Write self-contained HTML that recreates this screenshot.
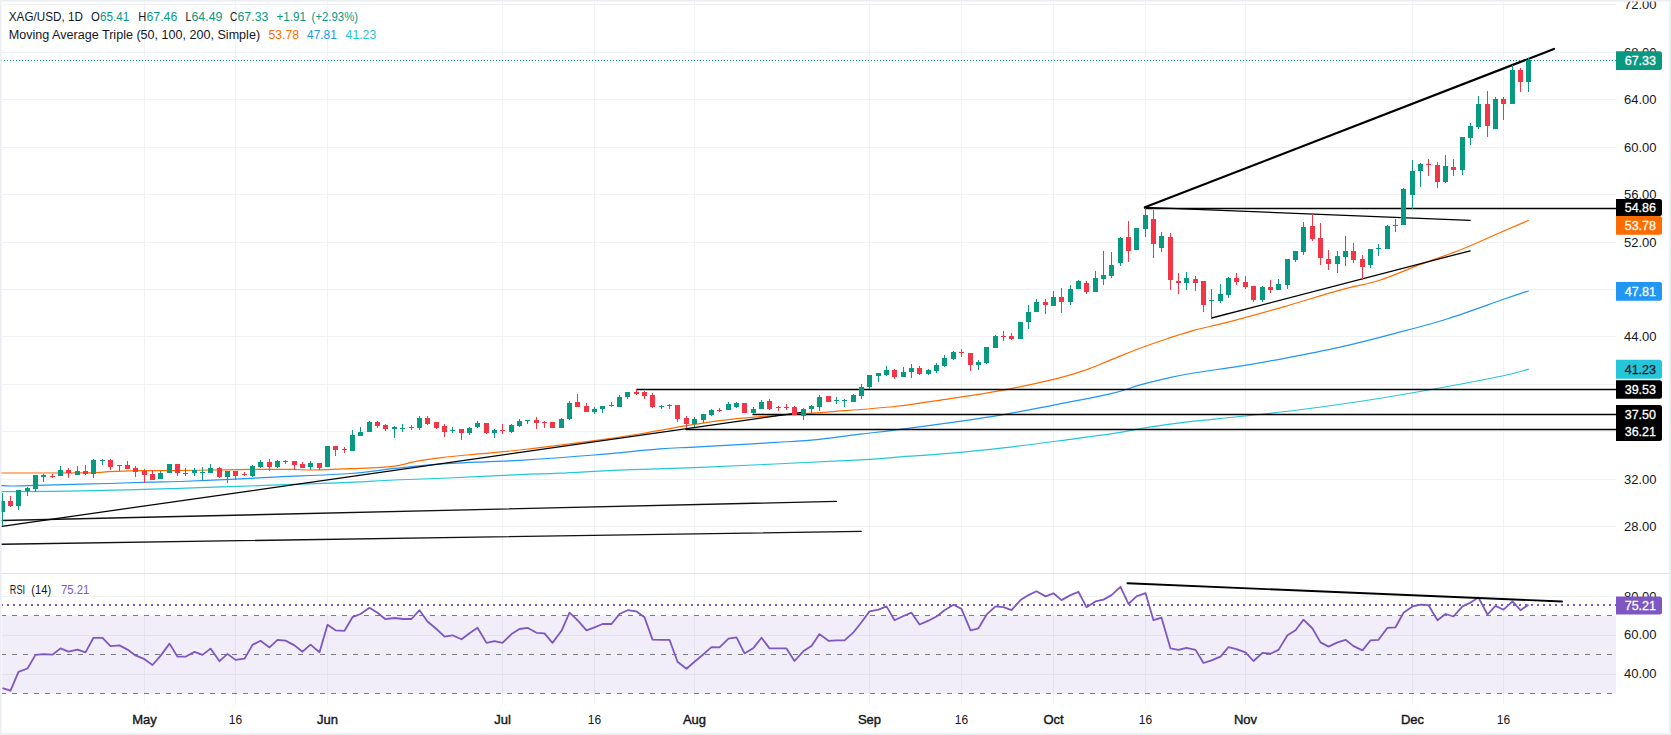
<!DOCTYPE html>
<html><head><meta charset="utf-8"><style>
html,body{margin:0;padding:0;background:#fff;}
body{width:1671px;height:735px;overflow:hidden;position:relative;font-family:"Liberation Sans",sans-serif;}
svg{position:absolute;left:0;top:0;}
text{font-family:"Liberation Sans",sans-serif;}
</style></head><body>
<svg width="1671" height="735" viewBox="0 0 1671 735">
<rect x="0" y="0" width="1671" height="735" fill="#ffffff"/>

<path d="M2 526.5H1616M2 479.5H1616M2 431.5H1616M2 384.5H1616M2 336.5H1616M2 289.5H1616M2 242.5H1616M2 194.5H1616M2 147.5H1616M2 99.5H1616M2 52.5H1616M2 4.5H1616M2 596.5H1616M2 635.5H1616M2 674.5H1616M144.5 2V573M144.5 574V704.5M235.5 2V573M235.5 574V704.5M327.5 2V573M327.5 574V704.5M502.5 2V573M502.5 574V704.5M594.5 2V573M594.5 574V704.5M694.5 2V573M694.5 574V704.5M869.5 2V573M869.5 574V704.5M961.5 2V573M961.5 574V704.5M1053.5 2V573M1053.5 574V704.5M1145.5 2V573M1145.5 574V704.5M1245.5 2V573M1245.5 574V704.5M1412.5 2V573M1412.5 574V704.5M1503.5 2V573M1503.5 574V704.5" stroke="#f0f2f4" stroke-width="1" fill="none"/>
<path d="M0 573.5H1669" stroke="#e0e3eb" stroke-width="1"/>
<rect x="2" y="615.5" width="1614" height="78" fill="#7e57c2" fill-opacity="0.1"/>
<path d="M2 615.5H1616" stroke="#787b86" stroke-width="1" stroke-dasharray="5 6" stroke-dashoffset="1"/>
<path d="M2 654.5H1616" stroke="#787b86" stroke-width="1" stroke-dasharray="5 6" stroke-dashoffset="1"/>
<path d="M2 693.5H1616" stroke="#787b86" stroke-width="1" stroke-dasharray="5 6" stroke-dashoffset="1"/>
<path d="M2 605H1616" stroke="#7e57c2" stroke-width="2" stroke-dasharray="2 4" stroke-dashoffset="1"/>
<path d="M1 60.5H1616" stroke="#089981" stroke-width="1" stroke-dasharray="1 2"/>
<path d="M0.0 491.7C9.1 491.6 31.7 491.6 54.4 491.3C77.1 491.0 115.1 490.2 136.0 489.7C156.9 489.2 163.0 488.9 180.0 488.3C197.0 487.8 219.3 487.0 238.0 486.4C256.7 485.8 273.7 485.1 292.4 484.4C311.1 483.7 333.0 483.0 350.0 482.3C367.0 481.6 377.9 480.7 394.4 480.0C410.9 479.3 427.9 478.9 448.8 478.0C469.7 477.1 501.5 475.4 520.0 474.6C538.5 473.8 542.4 474.0 560.0 473.2C577.6 472.4 603.2 470.7 625.6 469.8C648.0 468.9 655.5 469.2 694.6 467.6C733.7 466.0 826.7 461.6 860.0 459.9C893.3 458.2 879.6 458.4 894.4 457.3C909.2 456.2 930.6 454.9 948.8 453.3C966.9 451.7 985.1 449.9 1003.3 447.8C1021.4 445.8 1039.6 443.4 1057.7 441.0C1075.8 438.6 1098.5 435.7 1112.1 433.7C1125.7 431.7 1130.2 430.3 1139.3 428.8C1148.4 427.3 1157.4 426.0 1166.5 424.7C1175.6 423.4 1181.5 422.6 1193.7 421.2C1206.0 419.8 1222.6 418.4 1240.0 416.5C1257.4 414.6 1277.0 412.7 1298.0 410.0C1319.0 407.3 1343.3 404.0 1366.0 400.5C1388.7 397.0 1411.3 393.1 1434.0 389.0C1456.7 384.9 1486.3 379.3 1502.1 376.0C1517.9 372.7 1524.3 370.3 1528.8 369.2" stroke="#26c6da" stroke-width="1.2" fill="none"/>
<path d="M0.0 485.6C2.3 485.7 4.5 486.1 13.6 486.0C22.7 485.9 38.5 485.3 54.4 484.9C70.3 484.5 92.9 483.9 108.8 483.5C124.7 483.1 137.8 482.5 149.7 482.2C161.6 481.9 167.6 481.9 180.0 481.5C192.4 481.1 207.9 480.4 224.4 479.6C240.9 478.8 257.9 477.9 278.8 476.9C299.7 475.9 330.7 474.9 350.0 473.5C369.3 472.1 380.2 469.9 394.4 468.4C408.6 466.9 419.3 465.5 435.2 464.4C451.1 463.3 475.6 462.3 489.7 461.6C503.8 460.9 502.6 461.4 520.0 460.3C537.5 459.2 571.1 456.9 594.4 455.0C617.7 453.1 643.8 450.2 659.7 448.9C675.6 447.6 676.7 448.0 690.0 447.3C703.3 446.6 725.3 445.4 739.5 444.6C753.7 443.8 763.5 443.1 775.4 442.4C787.3 441.6 796.9 441.5 811.0 440.1C825.1 438.7 846.1 435.9 860.0 434.2C873.9 432.5 879.6 432.0 894.4 430.1C909.2 428.2 930.6 425.4 948.8 422.8C966.9 420.2 985.1 417.7 1003.3 414.6C1021.4 411.5 1039.6 407.8 1057.7 404.3C1075.8 400.8 1098.5 396.6 1112.1 393.4C1125.7 390.2 1130.2 387.7 1139.3 385.2C1148.4 382.7 1157.4 380.4 1166.5 378.4C1175.6 376.4 1181.5 375.0 1193.7 373.0C1206.0 371.0 1224.9 368.6 1240.0 366.2C1255.1 363.8 1267.9 361.4 1284.4 358.3C1300.9 355.2 1320.7 351.5 1338.8 347.4C1356.9 343.3 1375.1 338.6 1393.3 333.8C1411.5 329.0 1429.6 324.5 1447.7 318.8C1465.8 313.1 1488.6 304.5 1502.1 299.8C1515.6 295.1 1524.3 292.3 1528.8 290.8" stroke="#2196f3" stroke-width="1.2" fill="none"/>
<path d="M0.0 473.0C14.5 473.0 68.9 473.1 87.0 472.9C105.1 472.7 100.6 472.0 108.8 471.6C117.0 471.2 125.8 470.8 136.0 470.6C146.2 470.5 157.5 470.8 170.0 470.7C182.5 470.6 197.2 470.2 210.8 470.0C224.4 469.8 238.0 469.5 251.6 469.4C265.2 469.3 282.2 469.3 292.4 469.4C302.6 469.5 303.3 470.1 312.9 470.0C322.5 469.9 336.6 469.3 350.0 468.7C363.4 468.1 382.2 467.6 393.0 466.4C403.8 465.2 406.6 463.1 414.8 461.6C423.0 460.1 431.8 458.9 442.0 457.6C452.2 456.4 463.0 455.4 476.0 454.1C489.0 452.8 500.3 452.2 520.0 450.0C539.7 447.8 574.5 443.4 594.4 440.7C614.3 438.0 623.4 436.6 639.3 434.0C655.2 431.4 674.1 427.6 690.0 425.1C705.9 422.6 716.8 420.7 734.4 418.9C752.0 417.1 779.7 415.3 795.6 414.1C811.5 412.9 813.2 413.1 829.7 411.8C846.2 410.5 874.5 408.7 894.4 406.5C914.2 404.3 930.6 401.5 948.8 398.8C966.9 396.1 985.1 393.5 1003.3 390.1C1021.4 386.7 1044.1 381.7 1057.7 378.4C1071.3 375.1 1075.8 373.5 1084.9 370.3C1094.0 367.1 1103.0 363.0 1112.1 359.4C1121.2 355.8 1130.2 351.9 1139.3 348.5C1148.4 345.1 1157.4 342.0 1166.5 339.0C1175.6 336.0 1183.1 333.2 1193.7 330.3C1204.3 327.4 1214.9 325.6 1230.0 321.6C1245.1 317.7 1266.3 311.8 1284.4 306.6C1302.5 301.4 1322.9 294.7 1338.8 290.3C1354.7 285.9 1366.1 284.5 1379.7 280.2C1393.3 275.9 1406.9 269.5 1420.5 264.4C1434.1 259.3 1447.7 254.9 1461.3 249.5C1474.9 244.1 1490.8 236.7 1502.1 231.8C1513.3 226.9 1524.3 222.2 1528.8 220.3" stroke="#ff6d00" stroke-width="1.2" fill="none"/>
<path d="M1.8 520.5L836.4 501.4" stroke="#111" stroke-width="1.4" stroke-linecap="round"/>
<path d="M1.8 544.2L861.2 531.4" stroke="#111" stroke-width="1.4" stroke-linecap="round"/>
<path d="M1.8 526.3L801.7 412.3" stroke="#000" stroke-width="1.25" stroke-linecap="round"/>
<path d="M636.5 389.5L1616 389.5" stroke="#000" stroke-width="1.4" stroke-linecap="round"/>
<path d="M753.0 414.5L1616 414.5" stroke="#000" stroke-width="1.4" stroke-linecap="round"/>
<path d="M686 429.5L1616 429.5" stroke="#000" stroke-width="1.4" stroke-linecap="round"/>
<path d="M1144.9 208.5L1616 208.5" stroke="#000" stroke-width="1.4" stroke-linecap="round"/>
<path d="M1144.9 207.3L1470.2 220.3" stroke="#000" stroke-width="1.3" stroke-linecap="round"/>
<path d="M1211.6 318L1470.2 250.8" stroke="#000" stroke-width="1.3" stroke-linecap="round"/>
<path d="M1144.9 207.3L1553.9 49" stroke="#000" stroke-width="2.2" stroke-linecap="round"/>
<path d="M2.5 493.0V526.0M18.5 490.0V510.0M27.5 487.0V496.0M35.5 475.0V492.0M43.5 474.0V482.0M60.5 466.0V476.0M77.5 466.0V475.0M93.5 459.0V478.0M102.5 459.0V465.0M119.5 465.0V471.0M160.5 471.0V479.0M169.5 464.0V473.0M185.5 468.0V476.0M194.5 468.0V476.0M202.5 467.0V480.0M210.5 464.0V473.0M227.5 471.0V483.0M252.5 465.0V477.0M260.5 460.0V468.0M277.5 460.0V468.0M285.5 460.0V464.0M310.5 461.0V470.0M327.5 446.0V467.0M352.5 430.0V451.0M360.5 427.0V436.0M369.5 421.0V432.0M394.5 426.0V438.0M402.5 424.0V432.0M419.5 416.0V430.0M452.5 427.0V433.0M469.5 427.0V435.0M477.5 421.0V428.0M494.5 429.0V438.0M511.5 424.0V433.0M519.5 419.0V427.0M527.5 420.0V424.0M561.5 418.0V428.0M569.5 401.0V420.0M594.5 407.0V414.0M602.5 406.0V413.0M619.5 395.0V407.0M627.5 392.0V399.0M661.5 405.0V409.0M669.5 404.0V409.0M694.5 417.0V427.0M703.5 414.0V423.0M711.5 409.0V416.0M728.5 402.0V410.0M736.5 402.0V408.0M753.5 407.0V414.0M761.5 400.0V409.0M803.5 408.0V420.0M811.5 405.0V413.0M819.5 395.0V411.0M836.5 397.0V404.0M844.5 399.0V407.0M853.5 394.0V402.0M861.5 384.0V399.0M869.5 375.0V389.0M878.5 373.0V382.0M886.5 366.0V376.0M903.5 367.0V377.0M911.5 364.0V378.0M928.5 369.0V375.0M936.5 363.0V373.0M944.5 355.0V367.0M953.5 351.0V360.0M978.5 360.0V370.0M986.5 347.0V364.0M995.5 335.0V348.0M1020.5 322.0V339.0M1028.5 305.0V329.0M1036.5 299.0V312.0M1053.5 291.0V306.0M1070.5 285.0V305.0M1078.5 280.0V289.0M1095.5 271.0V292.0M1103.5 251.0V285.0M1111.5 252.0V278.0M1120.5 237.0V266.0M1136.5 228.0V250.0M1145.5 208.0V237.0M1161.5 232.0V252.0M1186.5 272.0V290.0M1211.5 289.0V318.0M1220.5 284.0V303.0M1228.5 277.0V298.0M1262.5 286.0V302.0M1278.5 279.0V290.0M1287.5 259.0V289.0M1295.5 251.0V262.0M1303.5 222.0V255.0M1337.5 251.0V273.0M1345.5 236.0V266.0M1370.5 249.0V268.0M1378.5 244.0V256.0M1387.5 225.0V249.0M1395.5 219.0V232.0M1403.5 188.0V225.0M1412.5 160.0V209.0M1420.5 163.0V187.0M1445.5 155.0V183.0M1462.5 137.0V175.0M1470.5 123.0V145.0M1478.5 96.0V129.0M1495.5 97.0V129.0M1512.5 65.0V104.0M1528.5 58.0V92.0" stroke="#089981" stroke-width="1" fill="none"/>
<path d="M10.5 496.0V507.0M52.5 474.0V478.0M68.5 468.0V478.0M85.5 465.0V475.0M110.5 459.0V470.0M127.5 461.0V469.0M135.5 466.0V477.0M144.5 469.0V483.0M152.5 470.0V480.0M177.5 464.0V476.0M219.5 467.0V478.0M235.5 471.0V480.0M244.5 472.0V476.0M269.5 459.0V471.0M294.5 461.0V470.0M302.5 462.0V468.0M319.5 463.0V470.0M335.5 446.0V456.0M344.5 447.0V453.0M377.5 421.0V428.0M385.5 424.0V431.0M411.5 425.0V430.0M427.5 416.0V425.0M436.5 422.0V429.0M444.5 424.0V437.0M461.5 429.0V440.0M486.5 423.0V434.0M502.5 424.0V434.0M536.5 417.0V429.0M544.5 421.0V428.0M552.5 422.0V428.0M577.5 394.0V407.0M586.5 403.0V412.0M611.5 402.0V407.0M636.5 389.0V395.0M644.5 391.0V399.0M652.5 393.0V408.0M677.5 405.0V422.0M686.5 416.0V428.0M719.5 408.0V412.0M744.5 403.0V413.0M769.5 399.0V410.0M778.5 406.0V411.0M786.5 404.0V410.0M794.5 406.0V415.0M828.5 396.0V402.0M894.5 369.0V379.0M919.5 366.0V375.0M961.5 349.0V357.0M970.5 353.0V371.0M1003.5 331.0V341.0M1011.5 333.0V340.0M1045.5 299.0V314.0M1061.5 288.0V313.0M1086.5 281.0V294.0M1128.5 221.0V262.0M1153.5 210.0V258.0M1170.5 233.0V290.0M1178.5 273.0V294.0M1195.5 276.0V291.0M1203.5 281.0V312.0M1236.5 273.0V285.0M1245.5 276.0V289.0M1253.5 286.0V302.0M1270.5 280.0V293.0M1312.5 213.0V241.0M1320.5 223.0V265.0M1328.5 250.0V270.0M1353.5 243.0V263.0M1362.5 255.0V280.0M1428.5 159.0V176.0M1437.5 162.0V188.0M1453.5 159.0V176.0M1487.5 91.0V137.0M1503.5 97.0V120.0M1520.5 68.0V92.0" stroke="#f23645" stroke-width="1" fill="none"/>
<path d="M0 501.0h5V512.0h-5ZM16 490.0h5V506.0h-5ZM25 488.0h5V491.0h-5ZM33 475.0h5V489.0h-5ZM41 475.0h5V477.0h-5ZM58 470.0h5V476.0h-5ZM75 471.0h5V475.0h-5ZM91 460.0h5V474.0h-5ZM100 460.0h5V461.0h-5ZM117 465.0h5V466.0h-5ZM158 473.0h5V479.0h-5ZM167 464.0h5V473.0h-5ZM183 473.0h5V474.0h-5ZM192 470.0h5V473.0h-5ZM200 472.0h5V473.0h-5ZM208 468.0h5V473.0h-5ZM225 471.0h5V477.0h-5ZM250 466.0h5V476.0h-5ZM258 462.0h5V467.0h-5ZM275 461.0h5V467.0h-5ZM283 461.0h5V462.0h-5ZM308 463.0h5V467.0h-5ZM325 446.0h5V467.0h-5ZM350 435.0h5V451.0h-5ZM358 432.0h5V436.0h-5ZM367 422.0h5V432.0h-5ZM392 427.0h5V429.0h-5ZM400 428.0h5V429.0h-5ZM417 418.0h5V428.0h-5ZM450 430.0h5V431.0h-5ZM467 428.0h5V433.0h-5ZM475 423.0h5V427.0h-5ZM492 430.0h5V433.0h-5ZM509 425.0h5V432.0h-5ZM517 421.0h5V426.0h-5ZM525 420.0h5V421.0h-5ZM559 419.0h5V428.0h-5ZM567 403.0h5V419.0h-5ZM592 409.0h5V412.0h-5ZM600 406.0h5V409.0h-5ZM617 397.0h5V407.0h-5ZM625 392.0h5V397.0h-5ZM659 406.0h5V407.0h-5ZM667 405.0h5V406.0h-5ZM692 419.0h5V424.0h-5ZM701 414.0h5V420.0h-5ZM709 410.0h5V415.0h-5ZM726 404.0h5V410.0h-5ZM734 403.0h5V407.0h-5ZM751 409.0h5V413.0h-5ZM759 402.0h5V409.0h-5ZM801 409.0h5V416.0h-5ZM809 406.0h5V409.0h-5ZM817 397.0h5V407.0h-5ZM834 400.0h5V401.0h-5ZM842 400.0h5V401.0h-5ZM851 395.0h5V402.0h-5ZM859 387.0h5V396.0h-5ZM867 375.0h5V387.0h-5ZM876 373.0h5V376.0h-5ZM884 370.0h5V375.0h-5ZM901 372.0h5V377.0h-5ZM909 368.0h5V372.0h-5ZM926 370.0h5V374.0h-5ZM934 365.0h5V371.0h-5ZM942 358.0h5V366.0h-5ZM951 352.0h5V359.0h-5ZM976 362.0h5V365.0h-5ZM984 347.0h5V363.0h-5ZM993 336.0h5V348.0h-5ZM1018 322.0h5V339.0h-5ZM1026 312.0h5V322.0h-5ZM1034 302.0h5V312.0h-5ZM1051 297.0h5V306.0h-5ZM1068 289.0h5V302.0h-5ZM1076 281.0h5V289.0h-5ZM1093 278.0h5V292.0h-5ZM1101 275.0h5V279.0h-5ZM1109 265.0h5V276.0h-5ZM1118 238.0h5V263.0h-5ZM1134 228.0h5V250.0h-5ZM1143 215.0h5V229.0h-5ZM1159 236.0h5V248.0h-5ZM1184 278.0h5V283.0h-5ZM1209 300.0h5V301.0h-5ZM1218 294.0h5V301.0h-5ZM1226 278.0h5V295.0h-5ZM1260 287.0h5V300.0h-5ZM1276 284.0h5V290.0h-5ZM1285 259.0h5V285.0h-5ZM1293 251.0h5V260.0h-5ZM1301 227.0h5V252.0h-5ZM1335 256.0h5V264.0h-5ZM1343 251.0h5V257.0h-5ZM1368 249.0h5V265.0h-5ZM1376 248.0h5V249.0h-5ZM1385 226.0h5V249.0h-5ZM1393 225.0h5V226.0h-5ZM1401 189.0h5V225.0h-5ZM1410 171.0h5V195.0h-5ZM1418 164.0h5V171.0h-5ZM1443 166.0h5V182.0h-5ZM1460 137.0h5V170.0h-5ZM1468 126.0h5V138.0h-5ZM1476 104.0h5V127.0h-5ZM1493 99.0h5V129.0h-5ZM1510 70.0h5V104.0h-5ZM1526 60.0h5V82.0h-5Z" fill="#089981"/>
<path d="M8 501.0h5V506.0h-5ZM50 476.0h5V477.0h-5ZM66 470.0h5V473.0h-5ZM83 471.0h5V474.0h-5ZM108 460.0h5V467.0h-5ZM125 465.0h5V469.0h-5ZM133 468.0h5V472.0h-5ZM142 471.0h5V475.0h-5ZM150 474.0h5V480.0h-5ZM175 464.0h5V473.0h-5ZM217 468.0h5V477.0h-5ZM233 471.0h5V476.0h-5ZM242 474.0h5V475.0h-5ZM267 462.0h5V467.0h-5ZM292 461.0h5V465.0h-5ZM300 464.0h5V468.0h-5ZM317 463.0h5V468.0h-5ZM333 446.0h5V450.0h-5ZM342 449.0h5V450.0h-5ZM375 422.0h5V426.0h-5ZM383 425.0h5V429.0h-5ZM409 427.0h5V428.0h-5ZM425 418.0h5V424.0h-5ZM434 422.0h5V428.0h-5ZM442 426.0h5V432.0h-5ZM459 429.0h5V433.0h-5ZM484 423.0h5V433.0h-5ZM500 430.0h5V431.0h-5ZM534 420.0h5V423.0h-5ZM542 422.0h5V423.0h-5ZM550 422.0h5V428.0h-5ZM575 402.0h5V407.0h-5ZM584 406.0h5V412.0h-5ZM609 405.0h5V406.0h-5ZM634 392.0h5V394.0h-5ZM642 392.0h5V396.0h-5ZM650 395.0h5V407.0h-5ZM675 405.0h5V419.0h-5ZM684 418.0h5V424.0h-5ZM717 410.0h5V411.0h-5ZM742 403.0h5V413.0h-5ZM767 401.0h5V409.0h-5ZM776 407.0h5V408.0h-5ZM784 407.0h5V408.0h-5ZM792 407.0h5V415.0h-5ZM826 396.0h5V402.0h-5ZM892 370.0h5V377.0h-5ZM917 368.0h5V374.0h-5ZM959 352.0h5V353.0h-5ZM968 353.0h5V365.0h-5ZM1001 336.0h5V337.0h-5ZM1009 336.0h5V339.0h-5ZM1043 302.0h5V305.0h-5ZM1059 297.0h5V302.0h-5ZM1084 283.0h5V292.0h-5ZM1126 237.0h5V251.0h-5ZM1151 219.0h5V244.0h-5ZM1168 237.0h5V280.0h-5ZM1176 281.0h5V283.0h-5ZM1193 279.0h5V283.0h-5ZM1201 281.0h5V305.0h-5ZM1234 278.0h5V282.0h-5ZM1243 282.0h5V287.0h-5ZM1251 286.0h5V300.0h-5ZM1268 287.0h5V290.0h-5ZM1310 226.0h5V239.0h-5ZM1318 238.0h5V258.0h-5ZM1326 259.0h5V264.0h-5ZM1351 251.0h5V260.0h-5ZM1360 259.0h5V267.0h-5ZM1426 164.0h5V165.0h-5ZM1435 165.0h5V182.0h-5ZM1451 167.0h5V170.0h-5ZM1485 104.0h5V126.0h-5ZM1501 99.0h5V104.0h-5ZM1518 70.0h5V82.0h-5Z" fill="#f23645"/>
<path d="M2.5 688.1 L10.5 690.6 L18.5 671.8 L27.5 668.5 L35.5 654.9 L43.5 654.2 L52.5 654.7 L60.5 648.4 L68.5 651.7 L77.5 649.6 L85.5 652.4 L93.5 637.8 L102.5 637.8 L110.5 646.1 L119.5 645.4 L127.5 649.6 L135.5 655.4 L144.5 659.2 L152.5 665.0 L160.5 655.9 L169.5 643.6 L177.5 656.7 L185.5 656.7 L194.5 651.9 L202.5 654.9 L210.5 648.6 L219.5 661.2 L227.5 653.9 L235.5 659.9 L244.5 658.7 L252.5 644.9 L260.5 640.8 L269.5 647.4 L277.5 639.8 L285.5 640.6 L294.5 645.4 L302.5 651.7 L310.5 644.6 L319.5 652.2 L327.5 624.8 L335.5 630.3 L344.5 630.8 L352.5 617.2 L360.5 614.0 L369.5 607.7 L377.5 612.7 L385.5 619.2 L394.5 618.0 L402.5 619.0 L411.5 619.0 L419.5 610.2 L427.5 621.5 L436.5 629.0 L444.5 636.6 L452.5 635.3 L461.5 639.3 L469.5 633.3 L477.5 627.8 L486.5 642.9 L494.5 641.1 L502.5 642.9 L511.5 634.1 L519.5 629.0 L527.5 627.8 L536.5 632.8 L544.5 633.3 L552.5 642.9 L561.5 630.8 L569.5 612.7 L577.5 620.2 L586.5 630.3 L594.5 627.3 L602.5 624.0 L611.5 624.0 L619.5 614.0 L627.5 610.2 L636.5 611.4 L644.5 617.2 L652.5 639.6 L661.5 639.8 L669.5 639.8 L677.5 661.7 L686.5 668.7 L694.5 661.7 L703.5 654.2 L711.5 647.1 L719.5 647.4 L728.5 638.6 L736.5 637.3 L744.5 653.4 L753.5 647.9 L761.5 637.8 L769.5 648.4 L778.5 648.4 L786.5 648.4 L794.5 661.0 L803.5 651.1 L811.5 646.1 L819.5 634.1 L828.5 640.8 L836.5 640.3 L844.5 640.3 L853.5 632.3 L861.5 622.2 L869.5 611.4 L878.5 609.7 L886.5 606.4 L894.5 620.2 L903.5 616.0 L911.5 612.7 L919.5 624.5 L928.5 620.7 L936.5 616.5 L944.5 610.2 L953.5 604.7 L961.5 608.9 L970.5 630.3 L978.5 628.3 L986.5 614.7 L995.5 606.4 L1003.5 607.2 L1011.5 610.2 L1020.5 600.1 L1028.5 595.1 L1036.5 591.3 L1045.5 596.4 L1053.5 593.3 L1061.5 600.1 L1070.5 595.1 L1078.5 591.8 L1086.5 607.2 L1095.5 601.4 L1103.5 599.6 L1111.5 595.1 L1120.5 586.8 L1128.5 603.9 L1136.5 596.4 L1145.5 593.1 L1153.5 620.2 L1161.5 617.7 L1170.5 648.4 L1178.5 649.9 L1186.5 647.9 L1195.5 649.9 L1203.5 663.0 L1211.5 660.4 L1220.5 656.7 L1228.5 647.1 L1236.5 649.1 L1245.5 652.4 L1253.5 661.0 L1262.5 652.9 L1270.5 653.7 L1278.5 649.9 L1287.5 635.3 L1295.5 630.3 L1303.5 619.7 L1312.5 628.5 L1320.5 642.4 L1328.5 646.6 L1337.5 642.4 L1345.5 639.8 L1353.5 646.1 L1362.5 650.4 L1370.5 640.3 L1378.5 639.8 L1387.5 627.8 L1395.5 627.3 L1403.5 612.7 L1412.5 606.4 L1420.5 604.7 L1428.5 605.2 L1437.5 620.2 L1445.5 614.0 L1453.5 616.5 L1462.5 606.4 L1470.5 602.6 L1478.5 597.6 L1487.5 614.5 L1495.5 605.9 L1503.5 609.7 L1512.5 601.4 L1520.5 610.2 L1528.5 604.7" stroke="#7e57c2" stroke-width="1.8" fill="none" stroke-linejoin="round"/>
<path d="M1127.5 583.3L1562 601.5" stroke="#000" stroke-width="1.9" stroke-linecap="round"/>
<text x="1656.5" y="9.0" text-anchor="end" font-size="13" fill="#131722">72.00</text><text x="1656.5" y="57.0" text-anchor="end" font-size="13" fill="#131722">68.00</text><text x="1656.5" y="104.0" text-anchor="end" font-size="13" fill="#131722">64.00</text><text x="1656.5" y="152.0" text-anchor="end" font-size="13" fill="#131722">60.00</text><text x="1656.5" y="199.0" text-anchor="end" font-size="13" fill="#131722">56.00</text><text x="1656.5" y="247.0" text-anchor="end" font-size="13" fill="#131722">52.00</text><text x="1656.5" y="341.0" text-anchor="end" font-size="13" fill="#131722">44.00</text><text x="1656.5" y="484.0" text-anchor="end" font-size="13" fill="#131722">32.00</text><text x="1656.5" y="531.0" text-anchor="end" font-size="13" fill="#131722">28.00</text><text x="1656.5" y="600.7" text-anchor="end" font-size="13" fill="#131722">80.00</text><text x="1656.5" y="639.4" text-anchor="end" font-size="13" fill="#131722">60.00</text><text x="1656.5" y="678.1" text-anchor="end" font-size="13" fill="#131722">40.00</text>
<path d="M1616 51.3H1659.5a2.5 2.5 0 0 1 2.5 2.5V67.4a2.5 2.5 0 0 1 -2.5 2.5H1616Z" fill="#089981"/><text x="1656" y="65.1" text-anchor="end" font-size="12.5" fill="#fff" stroke="#fff" stroke-width="0.3">67.33</text>
<path d="M1616 405.1H1659.5a2.5 2.5 0 0 1 2.5 2.5V438.4a2.5 2.5 0 0 1 -2.5 2.5H1616Z" fill="#000"/><text x="1656" y="427.5" text-anchor="end" font-size="12.5" fill="#fff" stroke="#fff" stroke-width="0.3"></text>
<text x="1656" y="419.1" text-anchor="end" font-size="12.5" fill="#fff" stroke="#fff" stroke-width="0.3">37.50</text>
<text x="1656" y="435.9" text-anchor="end" font-size="12.5" fill="#fff" stroke="#fff" stroke-width="0.3">36.21</text>
<path d="M1616 380.2H1659.5a2.5 2.5 0 0 1 2.5 2.5V396.2a2.5 2.5 0 0 1 -2.5 2.5H1616Z" fill="#000"/><text x="1656" y="393.9" text-anchor="end" font-size="12.5" fill="#fff" stroke="#fff" stroke-width="0.3">39.53</text>
<path d="M1616 359.8H1659.5a2.5 2.5 0 0 1 2.5 2.5V376.3a2.5 2.5 0 0 1 -2.5 2.5H1616Z" fill="#26c6da"/><text x="1656" y="373.8" text-anchor="end" font-size="12.5" fill="#131722" stroke="#131722" stroke-width="0.3">41.23</text>
<path d="M1616 282.1H1659.5a2.5 2.5 0 0 1 2.5 2.5V298.2a2.5 2.5 0 0 1 -2.5 2.5H1616Z" fill="#2196f3"/><text x="1656" y="295.9" text-anchor="end" font-size="12.5" fill="#fff" stroke="#fff" stroke-width="0.3">47.81</text>
<path d="M1616 216.0H1659.5a2.5 2.5 0 0 1 2.5 2.5V232.2a2.5 2.5 0 0 1 -2.5 2.5H1616Z" fill="#ff6d00"/><text x="1656" y="229.8" text-anchor="end" font-size="12.5" fill="#fff" stroke="#fff" stroke-width="0.3">53.78</text>
<path d="M1616 199.1H1659.5a2.5 2.5 0 0 1 2.5 2.5V213.5a2.5 2.5 0 0 1 -2.5 2.5H1616Z" fill="#000"/><text x="1656" y="212.1" text-anchor="end" font-size="12.5" fill="#fff" stroke="#fff" stroke-width="0.3">54.86</text>
<path d="M1616 596.4H1659.5a2.5 2.5 0 0 1 2.5 2.5V612.0a2.5 2.5 0 0 1 -2.5 2.5H1616Z" fill="#7e57c2"/><text x="1656" y="610.0" text-anchor="end" font-size="12.5" fill="#fff" stroke="#fff" stroke-width="0.3">75.21</text>
<text x="144.5" y="724" text-anchor="middle" font-size="13" fill="#131722" stroke="#131722" stroke-width="0.4">May</text>
<text x="235.5" y="724" text-anchor="middle" font-size="12" fill="#131722">16</text>
<text x="327.5" y="724" text-anchor="middle" font-size="13" fill="#131722" stroke="#131722" stroke-width="0.4">Jun</text>
<text x="502.5" y="724" text-anchor="middle" font-size="13" fill="#131722" stroke="#131722" stroke-width="0.4">Jul</text>
<text x="594.5" y="724" text-anchor="middle" font-size="12" fill="#131722">16</text>
<text x="694.5" y="724" text-anchor="middle" font-size="13" fill="#131722" stroke="#131722" stroke-width="0.4">Aug</text>
<text x="869.5" y="724" text-anchor="middle" font-size="13" fill="#131722" stroke="#131722" stroke-width="0.4">Sep</text>
<text x="961.5" y="724" text-anchor="middle" font-size="12" fill="#131722">16</text>
<text x="1053.5" y="724" text-anchor="middle" font-size="13" fill="#131722" stroke="#131722" stroke-width="0.4">Oct</text>
<text x="1145.5" y="724" text-anchor="middle" font-size="12" fill="#131722">16</text>
<text x="1245.5" y="724" text-anchor="middle" font-size="13" fill="#131722" stroke="#131722" stroke-width="0.4">Nov</text>
<text x="1412.5" y="724" text-anchor="middle" font-size="13" fill="#131722" stroke="#131722" stroke-width="0.4">Dec</text>
<text x="1503.5" y="724" text-anchor="middle" font-size="12" fill="#131722">16</text>
<text x="8.8" y="21" font-size="12.5" fill="#131722" textLength="74.1" lengthAdjust="spacingAndGlyphs">XAG/USD, 1D</text>
<text x="91" y="21" font-size="12.5" fill="#131722" textLength="8.8" lengthAdjust="spacingAndGlyphs">O</text>
<text x="100" y="21" font-size="12.5" fill="#089981" textLength="29.4" lengthAdjust="spacingAndGlyphs">65.41</text>
<text x="138.2" y="21" font-size="12.5" fill="#131722" textLength="8.0" lengthAdjust="spacingAndGlyphs">H</text>
<text x="146.5" y="21" font-size="12.5" fill="#089981" textLength="30.7" lengthAdjust="spacingAndGlyphs">67.46</text>
<text x="185.5" y="21" font-size="12.5" fill="#131722" textLength="5.8" lengthAdjust="spacingAndGlyphs">L</text>
<text x="191.5" y="21" font-size="12.5" fill="#089981" textLength="30.9" lengthAdjust="spacingAndGlyphs">64.49</text>
<text x="230" y="21" font-size="12.5" fill="#131722" textLength="7.3" lengthAdjust="spacingAndGlyphs">C</text>
<text x="237.5" y="21" font-size="12.5" fill="#089981" textLength="30.9" lengthAdjust="spacingAndGlyphs">67.33</text>
<text x="276.4" y="21" font-size="12.5" fill="#089981" textLength="29.6" lengthAdjust="spacingAndGlyphs">+1.91</text>
<text x="311.6" y="21" font-size="12.5" fill="#089981" textLength="46.5" lengthAdjust="spacingAndGlyphs">(+2.93%)</text>
<text x="8.8" y="39" font-size="12.5" fill="#131722" textLength="251.3" lengthAdjust="spacingAndGlyphs">Moving Average Triple (50, 100, 200, Simple)</text>
<text x="268.4" y="39" font-size="12.5" fill="#ff6d00" textLength="30.7" lengthAdjust="spacingAndGlyphs">53.78</text>
<text x="307.1" y="39" font-size="12.5" fill="#2196f3" textLength="29.7" lengthAdjust="spacingAndGlyphs">47.81</text>
<text x="345.6" y="39" font-size="12.5" fill="#26c6da" textLength="30.6" lengthAdjust="spacingAndGlyphs">41.23</text>
<text x="9.8" y="594" font-size="12.5" fill="#131722" textLength="15.2" lengthAdjust="spacingAndGlyphs">RSI</text>
<text x="31.3" y="594" font-size="12.5" fill="#131722" textLength="19.8" lengthAdjust="spacingAndGlyphs">(14)</text>
<text x="61" y="594" font-size="12.5" fill="#7e57c2" textLength="28.4" lengthAdjust="spacingAndGlyphs">75.21</text>
<rect x="0" y="0" width="1671" height="1.6" fill="#eceef3"/>
<rect x="0" y="733" width="1671" height="2" fill="#eceef3"/>
<rect x="0" y="0" width="1.6" height="735" fill="#eceef3"/>
<rect x="1669" y="0" width="2" height="735" fill="#eceef3"/>
</svg></body></html>
